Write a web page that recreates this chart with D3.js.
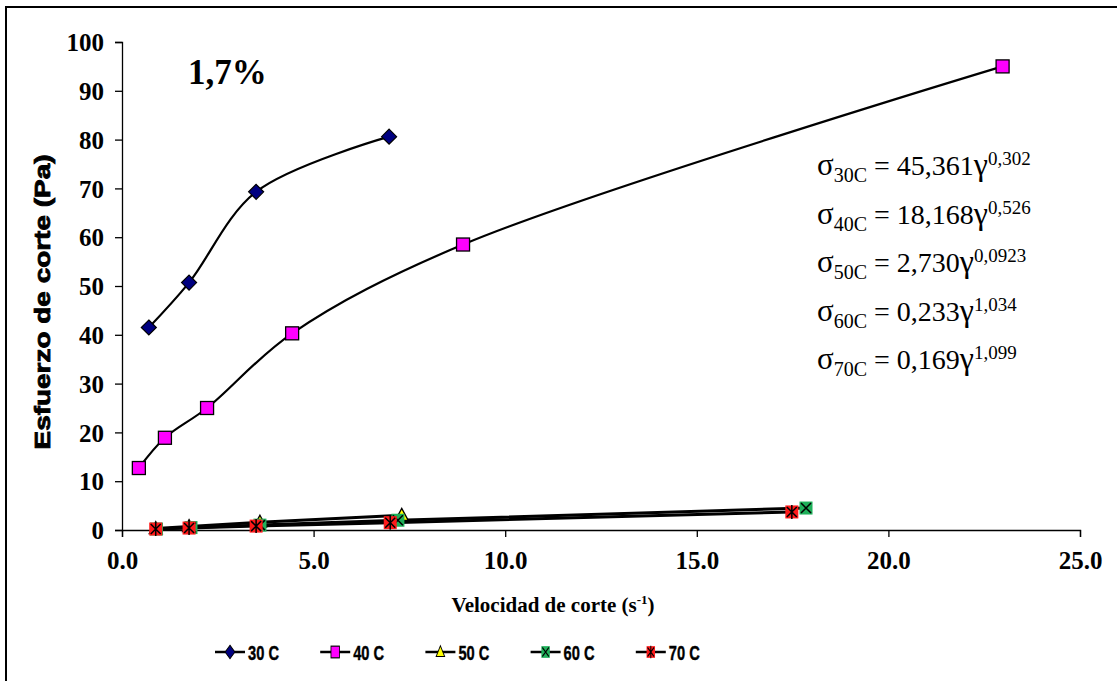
<!DOCTYPE html>
<html>
<head>
<meta charset="utf-8">
<script src="https://cdn.jsdelivr.net/npm/d3@7"></script>
<style>
	body { margin: 0; background: #fff; }
	svg { display: block; }
</style>
</head>
<body>
<svg id="chart" width="1117" height="681"></svg>
<script>
// series (velocidad de corte s-1, esfuerzo Pa)
var seriesNames = ['30 C', '40 C', '50 C', '60 C', '70 C'];
var x30 = [0.7, 1.75, 3.5, 6.97];
var y30 = [41.5, 50.7, 69.3, 80.6];
var x40 = [0.44, 1.12, 2.22, 4.44, 8.9, 22.98];
var y40 = [12.7, 18.9, 25.0, 40.3, 58.5, 95.0];
var x50 = [0.88, 1.75, 3.6, 7.3];
var y50 = [0.3, 0.7, 1.6, 3.0];
var x60 = [0.9, 1.8, 3.6, 7.2, 17.85];
var y60 = [0.2, 0.5, 1.0, 2.0, 4.5];
var x70 = [0.88, 1.75, 3.5, 7.0, 17.48];
var y70 = [0.2, 0.4, 0.8, 1.5, 3.7];
var xTicks = [0, 5, 10, 15, 20, 25];
var yTicks = [0, 10, 20, 30, 40, 50, 60, 70, 80, 90, 100];
var eqSub = ['30C', '40C', '50C', '60C', '70C'];
var eqCoef = [' = 45,361', '  = 18,168', ' = 2,730', '  = 0,233', ' = 0,169'];
var eqExp = ['0,302', '0,526', '0,0923', '1,034', '1,099'];

var serif = '"Liberation Serif", "Times New Roman", serif';
var sans = '"Liberation Sans", Arial, sans-serif';

var svg = d3.select('#chart');

// outer frame (cut off at right and bottom)
svg.append('rect')
	.attr('x', 6).attr('y', 7)
	.attr('width', 1130).attr('height', 700)
	.attr('fill', 'none').attr('stroke', '#000').attr('stroke-width', 2);

var x = d3.scaleLinear().domain([0, 25]).range([122, 1080]);
var y = d3.scaleLinear().domain([0, 100]).range([530, 42]);

// axes
var yAxis = svg.append('g').attr('transform', 'translate(122,0)')
	.call(d3.axisLeft(y).tickValues(yTicks).tickSize(7).tickFormat(d3.format('d')));
var xAxis = svg.append('g').attr('transform', 'translate(0,530)')
	.call(d3.axisBottom(x).tickValues(xTicks).tickSize(7).tickFormat(d3.format('.1f')));
[xAxis, yAxis].forEach(function(a) {
	a.attr('font-family', null).attr('font-size', null);
	a.select('.domain').attr('stroke', '#000').attr('stroke-width', 1.3);
	a.selectAll('.tick line').attr('stroke', '#000').attr('stroke-width', 1.3);
	a.selectAll('.tick text')
		.style('font-family', serif).style('font-weight', 'bold').style('font-size', '25px')
		.attr('fill', '#000');
});
yAxis.selectAll('.tick text').attr('x', -18).attr('dy', '0.35em');
xAxis.selectAll('.tick text').attr('y', 21);

// axis titles
svg.append('text')
	.attr('transform', 'translate(50,302) rotate(-90)')
	.attr('text-anchor', 'middle')
	.attr('textLength', 295).attr('lengthAdjust', 'spacingAndGlyphs')
	.style('font-family', sans)
	.style('font-weight', '900').style('font-size', '22px')
	.style('stroke', '#000').style('stroke-width', 0.8)
	.text('Esfuerzo de corte (Pa)');

var xt = svg.append('text')
	.attr('x', 553).attr('y', 612)
	.attr('text-anchor', 'middle')
	.style('font-family', serif)
	.style('font-weight', 'bold').style('font-size', '21px');
xt.append('tspan').text('Velocidad de corte  (s');
xt.append('tspan').attr('dy', -8).style('font-size', '13px').text('-1');
xt.append('tspan').attr('dy', 8).text(')');

svg.append('text')
	.attr('x', 188).attr('y', 84)
	.style('font-family', serif)
	.style('font-weight', 'bold').style('font-size', '35px')
	.text('1,7%');

// equations
eqSub.forEach(function(s, i) {
	var t = svg.append('text')
		.attr('x', 817).attr('y', 175 + i * 48.6)
		.style('font-family', serif).style('font-size', '28px');
	t.append('tspan').style('font-size', '31px').text('σ');
	t.append('tspan').attr('dy', 7).style('font-size', '20px').text(s);
	t.append('tspan').attr('dy', -7).text(eqCoef[i]);
	t.append('tspan').style('font-size', '32px').text('γ');
	t.append('tspan').attr('dy', -10).style('font-size', '19px').text(eqExp[i]);
});

// lines
var straight = d3.line().x(d => x(d[0])).y(d => y(d[1]));
var smooth = d3.line().x(d => x(d[0])).y(d => y(d[1])).curve(d3.curveCatmullRom.alpha(0.5));

var data30 = x30.map((v, i) => [v, y30[i]]);
var data40 = x40.map((v, i) => [v, y40[i]]);
var data50 = x50.map((v, i) => [v, y50[i]]);
var data60 = x60.map((v, i) => [v, y60[i]]);
var data70 = x70.map((v, i) => [v, y70[i]]);

[data50, data60, data70].forEach(function(d) {
	svg.append('path').attr('d', straight(d))
		.attr('fill', 'none').attr('stroke', '#000').attr('stroke-width', 3);
});
[data30, data40].forEach(function(d) {
	svg.append('path').attr('d', smooth(d))
		.attr('fill', 'none').attr('stroke', '#000').attr('stroke-width', 2.2);
});

// markers
function drawMarker(g, type) {
	if (type == 0) {
		g.append('path').attr('d', 'M0,-7.5L7.5,0L0,7.5L-7.5,0Z')
			.attr('fill', '#000080').attr('stroke', '#000').attr('stroke-width', 1.2);
	} else if (type == 1) {
		g.append('rect').attr('x', -6.5).attr('y', -6.5).attr('width', 13).attr('height', 13)
			.attr('fill', '#ff00ff').attr('stroke', '#000').attr('stroke-width', 1.3);
	} else if (type == 2) {
		g.append('path').attr('d', 'M0,-7L6.5,5L-6.5,5Z')
			.attr('fill', '#ffff00').attr('stroke', '#000').attr('stroke-width', 1.3);
	} else if (type == 3) {
		g.append('rect').attr('x', -6.5).attr('y', -6.5).attr('width', 13).attr('height', 13)
			.attr('fill', '#1fb05a');
		g.append('path').attr('d', 'M-5,-5L5,5M-5,5L5,-5')
			.attr('stroke', '#000').attr('stroke-width', 1.5);
	} else {
		g.append('rect').attr('x', -6.5).attr('y', -6.5).attr('width', 13).attr('height', 13)
			.attr('fill', '#ff1a1a');
		g.append('path').attr('d', 'M-5,-5L5,5M-5,5L5,-5M0,-7L0,7')
			.attr('stroke', '#000').attr('stroke-width', 1.5);
	}
}

[data30, data40, data50, data60, data70].forEach(function(d, k) {
	svg.append('g').selectAll('g')
		.data(d)
		.enter()
		.append('g')
		.attr('transform', p => `translate(${x(p[0])},${y(p[1])})`)
		.each(function() { drawMarker(d3.select(this), k); });
});

// legend
var legend = svg.append('g').selectAll('g')
	.data(seriesNames)
	.enter()
	.append('g')
	.attr('transform', (d, i) => `translate(${215 + i * 105.2},652)`);
legend.append('line')
	.attr('x1', 0).attr('x2', 30).attr('y1', 0).attr('y2', 0)
	.attr('stroke', '#000').attr('stroke-width', 2.5);
legend.each(function(d, i) {
	var g = d3.select(this).append('g').attr('transform', 'translate(15,0) scale(0.65,0.9)');
	drawMarker(g, i);
});
legend.append('text')
	.attr('x', 33).attr('y', 8)
	.style('font-family', sans).style('font-weight', 'bold').style('font-size', '21px')
	.style('stroke', '#000').style('stroke-width', 0.4)
	.attr('textLength', 31).attr('lengthAdjust', 'spacingAndGlyphs')
	.text(d => d);
</script>
</body>
</html>
